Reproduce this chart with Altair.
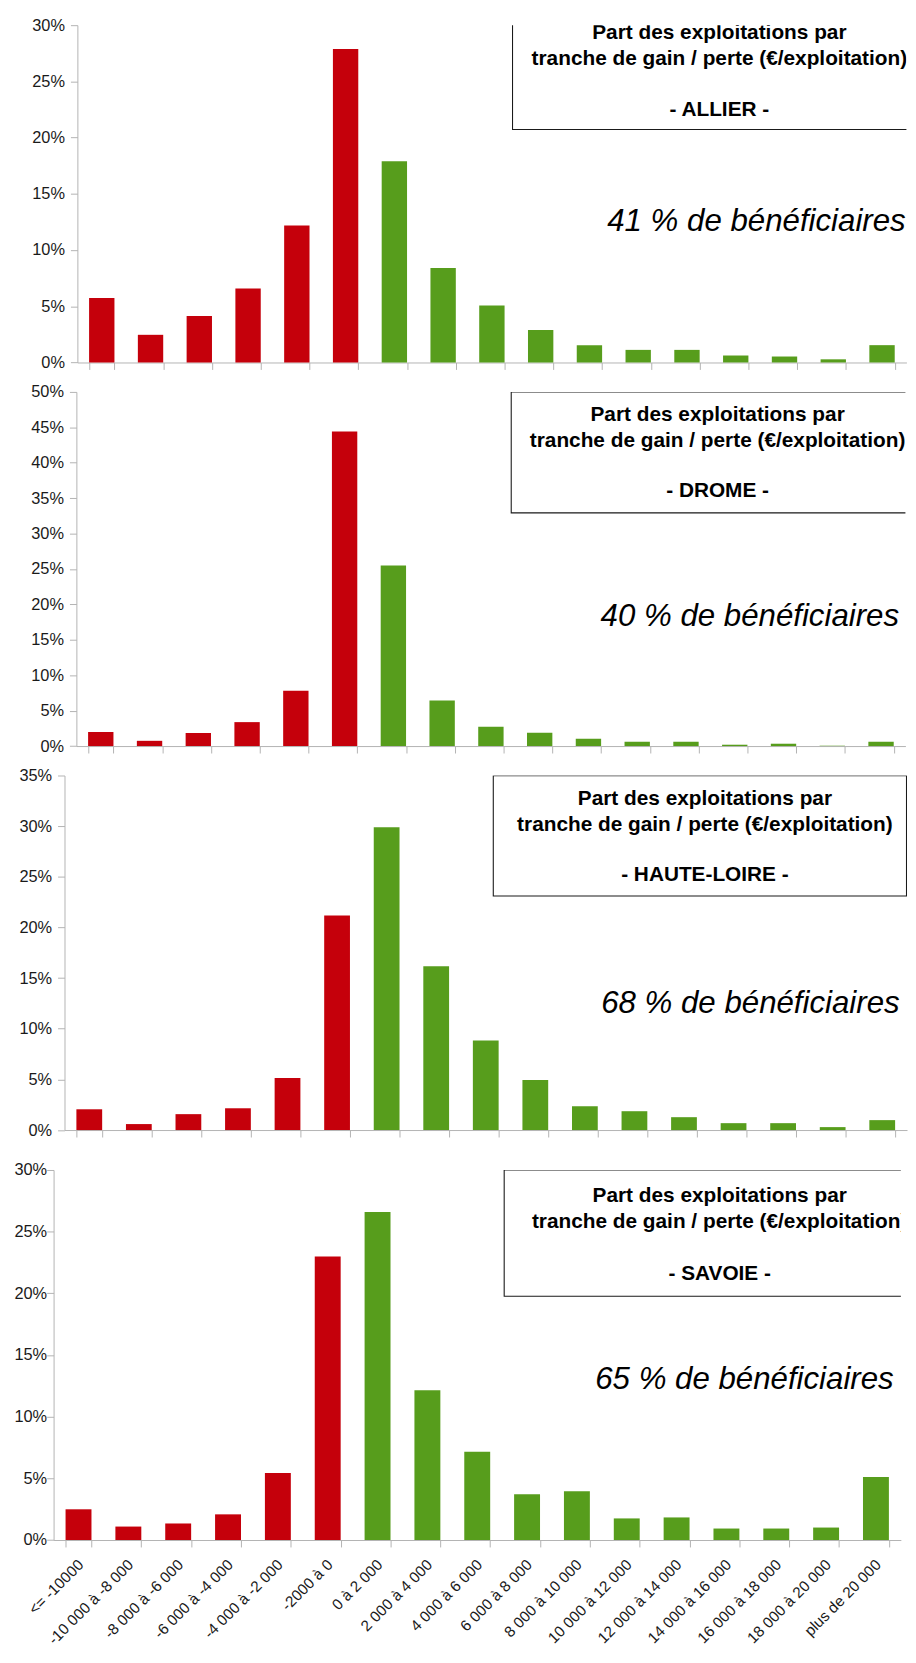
import altair as alt
import pandas as pd

# ---------------- data ----------------
categories = [
    "<= -10000", "-10 000 à -8 000", "-8 000 à -6 000", "-6 000 à -4 000",
    "-4 000 à -2 000", "-2000 à 0", "0 à 2 000", "2 000 à 4 000",
    "4 000 à 6 000", "6 000 à 8 000", "8 000 à 10 000", "10 000 à 12 000",
    "12 000 à 14 000", "14 000 à 16 000", "16 000 à 18 000",
    "18 000 à 20 000", "plus de 20 000",
]
departements = ["ALLIER", "DROME", "HAUTE-LOIRE", "SAVOIE"]
allier = [5.73, 2.46, 4.14, 6.57, 12.19, 27.88, 17.89, 8.41, 5.06, 2.88,
          1.54, 1.12, 1.12, 0.62, 0.53, 0.28, 1.54]
drome = [1.99, 0.74, 1.85, 3.38, 7.82, 44.4, 25.5, 6.44, 2.71, 1.87,
         1.03, 0.61, 0.61, 0.19, 0.33, 0.05, 0.61]
haute_loire = [2.05, 0.59, 1.57, 2.15, 5.13, 21.18, 29.88, 16.18, 8.85, 4.95,
               2.35, 1.86, 1.27, 0.68, 0.68, 0.29, 0.98]
savoie = [2.49, 1.09, 1.34, 2.08, 5.44, 22.99, 26.6, 12.14, 7.16, 3.72,
          3.96, 1.75, 1.83, 0.93, 0.93, 1.01, 5.11]
series = [allier, drome, haute_loire, savoie]
beneficiaires = [41, 40, 68, 65]
y_max = [30, 50, 35, 30]
signe = ["perte"] * 6 + ["gain"] * 11
titre_ligne1 = "Part des exploitations par"
titre_ligne2 = "tranche de gain / perte (€/exploitation)"

# ---------------- style / layout ----------------
FONT = "Liberation Sans"
RED = "#c5000b"
GREEN = "#579d1c"
GREY = "#b3b3b3"
INK = "#1a1a1a"
EXT = 40  # left extent reserved for y labels in every panel

layout = [
    dict(spacer=21.3, top=9, bottom=11, w=836.4, h=340.3,
         box=(439, 900, -5, 105.3), cx=647.7, ty=13.7, dy=91.7, lh=26,
         bx=835.7, by=208, lp=6),
    dict(spacer=20.3, top=17.4, bottom=11, w=836.4, h=357.3,
         box=(438.7, 900, 0, 122), cx=646.9, ty=29.3, dy=106, lh=26,
         bx=830, by=236, lp=6),
    dict(spacer=7.7, top=16.7, bottom=11, w=850, h=357.7,
         box=(432.6, 849.5, 0.3, 121.6), cx=646.1, ty=30, dy=106, lh=26,
         bx=842.6, by=239.3, lp=6),
    dict(spacer=2.7, top=27.3, bottom=0, w=854.8, h=373.3,
         box=(454.6, 900, 0, 127.3), cx=672, ty=32.3, dy=111, lh=26.3,
         bx=847.6, by=221, lp=0),
]

one = pd.DataFrame({"k": [0]})


def line_text(txt, x, y):
    return alt.Chart(one).mark_text(
        align="center", baseline="alphabetic", font=FONT, fontSize=21,
        fontWeight="bold", color="#000000", clip=True,
    ).encode(x=alt.value(x), y=alt.value(y), text=alt.value(txt))


def panel(i):
    L = layout[i]
    last = i == len(departements) - 1
    df = pd.DataFrame({
        "tranche": categories,
        "part": [v / 100 for v in series[i]],
        "signe": signe,
    })
    ticks = [t / 100 for t in range(0, y_max[i] + 1, 5)]
    x_axis = alt.Axis(
        title=None, labels=last, ticks=True, tickSize=7, tickBand="extent",
        tickColor=GREY, domainColor=GREY, tickWidth=1, domainWidth=1,
        labelAngle=-45, labelAlign="right", labelBaseline="middle",
        labelFontSize=15.5, labelFont=FONT, labelColor=INK,
        labelPadding=15, labelOffset=2, labelOverlap=False, labelLimit=300,
        grid=False,
    )
    y_axis = alt.Axis(
        title=None, values=ticks, format=".0%", tickSize=7, tickColor=GREY,
        domainColor=GREY, grid=False, labelFontSize=16.5, labelFont=FONT,
        labelColor=INK, labelPadding=L["lp"],
    )
    bars = alt.Chart(df).mark_bar().encode(
        x=alt.X("tranche:N", sort=categories,
                scale=alt.Scale(paddingInner=0.48, paddingOuter=0.24),
                axis=x_axis),
        y=alt.Y("part:Q", scale=alt.Scale(domain=[0, y_max[i] / 100], nice=False),
                axis=y_axis),
        color=alt.Color("signe:N",
                        scale=alt.Scale(domain=["perte", "gain"], range=[RED, GREEN]),
                        legend=None),
    )
    bx1, bx2, by1, by2 = L["box"]
    box = alt.Chart(one).mark_rect(
        fill="white", fillOpacity=0, stroke=INK, strokeWidth=1.1, clip=True
    ).encode(x=alt.value(bx1), x2=alt.value(bx2), y=alt.value(by1), y2=alt.value(by2))
    t1 = line_text(titre_ligne1, L["cx"], L["ty"])
    t2 = line_text(titre_ligne2, L["cx"], L["ty"] + L["lh"])
    t3 = line_text(f"- {departements[i]} -", L["cx"], L["dy"])
    big_text = alt.Chart(one).mark_text(
        align="right", baseline="alphabetic", font=FONT, fontSize=31.5,
        fontStyle="italic", color="#000000",
    ).encode(
        x=alt.value(L["bx"]), y=alt.value(L["by"]),
        text=alt.value(f"{beneficiaires[i]} % de bénéficiaires"),
    )
    guide = alt.Chart(one).mark_rule(strokeOpacity=0).encode(
        x=alt.value(-EXT), y=alt.value(-L["top"]),
        y2=alt.value(L["h"] + L["bottom"]),
    )
    body = alt.layer(bars, box, t1, t2, t3, big_text, guide).properties(
        width=L["w"], height=L["h"]
    )
    spacer = alt.Chart(one).mark_rule(strokeOpacity=0).encode(
        x=alt.value(0), x2=alt.value(L["spacer"]), y=alt.value(0)
    ).properties(width=L["spacer"], height=1)
    return alt.hconcat(spacer, body, spacing=0)


chart = alt.vconcat(
    *[panel(i) for i in range(len(departements))], spacing=0,
).resolve_scale(x="independent", y="independent").properties(
    background="white", padding=0,
).configure_view(stroke="transparent")

chart.save("out.html", embed_options={"renderer": "svg", "actions": False})
